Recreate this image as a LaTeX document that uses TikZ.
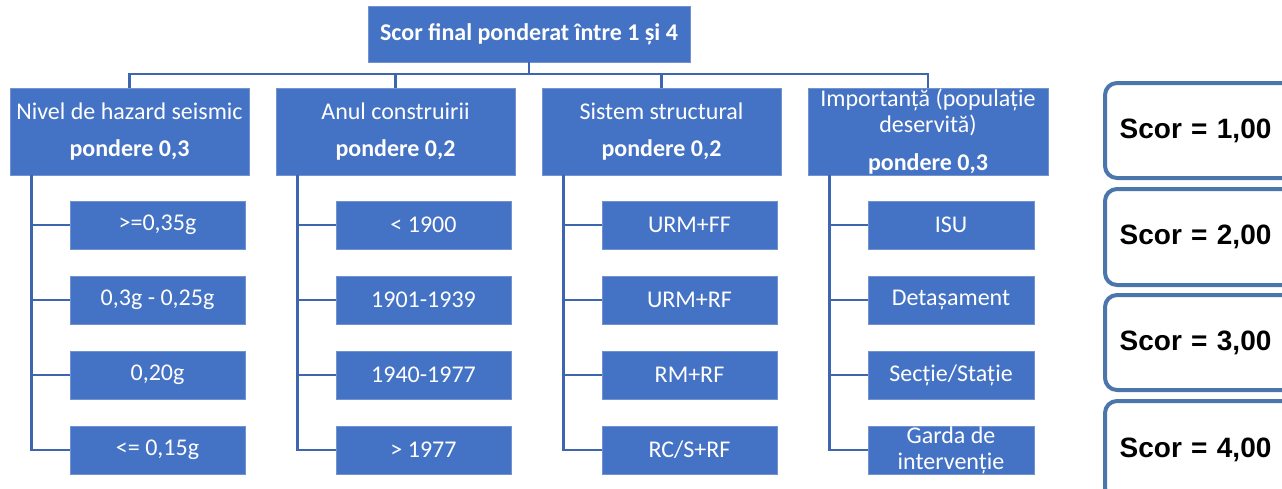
\documentclass[tikz,border=0pt]{standalone}
\usepackage{fontspec}
\setmainfont{Carlito}
\newfontfamily\scorefont{Liberation Sans}
\usetikzlibrary{calc}
\definecolor{boxblue}{HTML}{4472C4}
\definecolor{boxedge}{HTML}{7393D0}
\definecolor{linkblue}{HTML}{3E66AE}
\definecolor{scoreedge}{HTML}{4A76AB}

\begin{document}
\begin{tikzpicture}[x=0.75pt,y=-0.75pt,
  bluebox/.style={fill=boxblue,draw=boxedge,line width=0.6pt,text=white,align=center,
    inner sep=0pt,font=\fontsize{18}{19}\selectfont},
  topbox/.style={bluebox,minimum width=241.5pt,minimum height=42pt,
    font=\bfseries\fontsize{18}{19}\selectfont},
  catbox/.style={bluebox,minimum width=179.25pt,minimum height=65.25pt},
  itembox/.style={bluebox,minimum width=131.25pt,minimum height=36pt,
    font=\fontsize{18}{19.5}\selectfont},
  link/.style={draw=linkblue,line width=2.2pt},
  scorebox/.style={draw=scoreedge,line width=3pt,rounded corners=9pt,fill=white,
    anchor=north west,text width=132pt,inner xsep=11pt,inner ysep=0pt,align=left,
    font=\scorefont\bfseries\fontsize{21}{23}\selectfont}
]
\useasboundingbox (0,0) rectangle (1282,489);

% root of the tree
\node[topbox] (top) at (529,34) {Scor final ponderat între 1 și 4};

% weighted criteria
\node[catbox] (cat1) at (129.5,131.5) {Nivel de hazard seismic\\[9pt]\textbf{pondere 0,3}};
\node[catbox] (cat2) at (395.5,131.5) {Anul construirii\\[9pt]\textbf{pondere 0,2}};
\node[catbox] (cat3) at (661.5,131.5) {Sistem structural\\[9pt]\textbf{pondere 0,2}};
\node[catbox,minimum width=180pt] (cat4) at (928,131.5)
  {Importanță (populație\\deservită)\\[9.5pt]\textbf{pondere 0,3}};

% classes of each criterion
\node[itembox] (c11) at (157.5,225) {>=0,35g};
\node[itembox] (c12) at (157.5,300) {0,3g - 0,25g};
\node[itembox] (c13) at (157.5,375) {0,20g};
\node[itembox] (c14) at (157.5,450) {<= 0,15g};

\node[itembox] (c21) at (423.5,225) {< 1900};
\node[itembox] (c22) at (423.5,300) {1901-1939};
\node[itembox] (c23) at (423.5,375) {1940-1977};
\node[itembox] (c24) at (423.5,450) {> 1977};

\node[itembox] (c31) at (689.5,225) {URM+FF};
\node[itembox] (c32) at (689.5,300) {URM+RF};
\node[itembox] (c33) at (689.5,375) {RM+RF};
\node[itembox] (c34) at (689.5,450) {RC/S+RF};

\node[itembox,minimum width=124.5pt] (c41) at (951,225) {ISU};
\node[itembox,minimum width=124.5pt] (c42) at (951,300) {Detașament};
\node[itembox,minimum width=124.5pt] (c43) at (951,375) {Secție/Stație};
\node[itembox,minimum width=124.5pt] (c44) at (951,450) {Garda de\\intervenție};

% root connectors
\coordinate (bar) at (529,74);
\draw[link] (top.south) -- (top.south |- bar);
\draw[link] (cat1.north) -- (cat1.north |- bar) -- (cat4.north |- bar) -- (cat4.north);
\draw[link] (cat2.north |- bar) -- (cat2.north);
\draw[link] (cat3.north |- bar) -- (cat3.north);

% spine and branches below each criterion
\foreach \k in {1,2,3,4}{
  \coordinate (s\k) at ($(cat\k.south west)+(22,0)$);
  \draw[link] (s\k) |- (c\k4.west);
  \foreach \r in {1,2,3}{
    \draw[link] (s\k |- c\k\r.west) -- (c\k\r.west);
  }
}

% score scale
\begin{scope}
\clip (0,0) rectangle (1282,489);
\node[scorebox,minimum height=71.25pt] (sc1) at (1103,81) {Scor = 1,00};
\node[scorebox,minimum height=72pt] (sc2) at (1103,187) {Scor = 2,00};
\node[scorebox,minimum height=71.25pt] (sc3) at (1103,293) {Scor = 3,00};
\node[scorebox,minimum height=74pt] (sc4) at (1103,399) {Scor = 4,00};
\end{scope}
\end{tikzpicture}
\end{document}
